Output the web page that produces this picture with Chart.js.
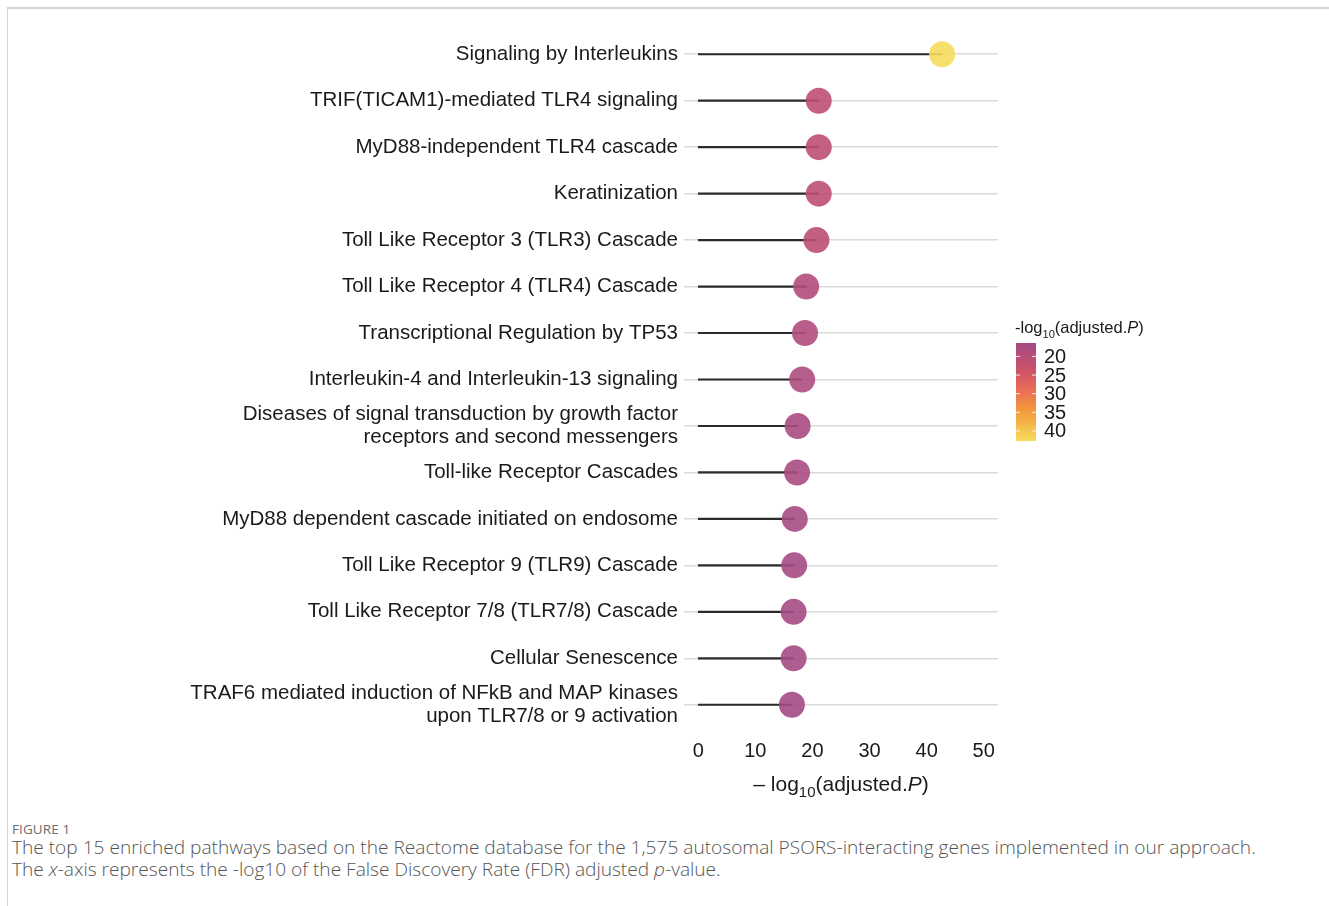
<!DOCTYPE html>
<html>
<head>
<meta charset="utf-8">
<script src="https://cdn.jsdelivr.net/npm/chart.js@4/dist/chart.umd.min.js"></script>
<style>
  body { margin: 0; background: #fff; width: 1329px; height: 906px; overflow: hidden; position: relative; }
  #frame { position: absolute; left: 7px; top: 7px; right: 0; bottom: 0; border-top: 2px solid #d4d4d4; border-left: 1px solid #d4d4d4; }
  #wrap { position: absolute; left: 0; top: 0; width: 1329px; height: 800px; }
  #fig { position: absolute; left: 12px; top: 820px; font-family: "Open Sans", sans-serif; font-size: 13.5px; color: #6b6b6b; letter-spacing: 0.1px; }
  #caption { position: absolute; left: 12px; top: 836px; font-family: "Open Sans", sans-serif; font-weight: 300; font-size: 19.1px; line-height: 22px; color: #555; }
</style>
</head>
<body>
<div id="frame"></div>
<div id="wrap"><canvas id="chart" width="1329" height="800"></canvas></div>
<div id="fig">FIGURE 1</div>
<div id="caption">The top 15 enriched pathways based on the Reactome database for the 1,575 autosomal PSORS-interacting genes implemented in our approach.<br>The <i>x</i>-axis represents the -log10 of the False Discovery Rate (FDR) adjusted <i>p</i>-value.</div>
<script>
const pathways = [
  'Signaling by Interleukins',
  'TRIF(TICAM1)-mediated TLR4 signaling',
  'MyD88-independent TLR4 cascade',
  'Keratinization',
  'Toll Like Receptor 3 (TLR3) Cascade',
  'Toll Like Receptor 4 (TLR4) Cascade',
  'Transcriptional Regulation by TP53',
  'Interleukin-4 and Interleukin-13 signaling',
  ['Diseases of signal transduction by growth factor', 'receptors and second messengers'],
  'Toll-like Receptor Cascades',
  'MyD88 dependent cascade initiated on endosome',
  'Toll Like Receptor 9 (TLR9) Cascade',
  'Toll Like Receptor 7/8 (TLR7/8) Cascade',
  'Cellular Senescence',
  ['TRAF6 mediated induction of NFkB and MAP kinases', 'upon TLR7/8 or 9 activation']
];
const logP = [42.7, 21.1, 21.1, 21.1, 20.7, 18.9, 18.7, 18.2, 17.4, 17.3, 16.9, 16.8, 16.7, 16.7, 16.4];
const xTicks = [0, 10, 20, 30, 40, 50];
const legendTicks = [20, 25, 30, 35, 40];

const lo = Math.min(...logP);
const hi = Math.max(...logP);

// purple -> red -> orange -> yellow
const stops = [
  [0.00, [164, 74, 134]],
  [0.28, [205, 82, 104]],
  [0.50, [236, 112, 84]],
  [0.70, [244, 156, 58]],
  [1.00, [246, 219, 94]]
];
function colorAt(v, a) {
  let t = (v - lo) / (hi - lo);
  t = Math.max(0, Math.min(1, t));
  let i = 0;
  while (i < stops.length - 2 && t > stops[i + 1][0]) i++;
  const [t0, c0] = stops[i], [t1, c1] = stops[i + 1];
  const f = (t - t0) / (t1 - t0);
  const c = c0.map((ch, k) => Math.round(ch + (c1[k] - ch) * f));
  return `rgba(${c[0]}, ${c[1]}, ${c[2]}, ${a})`;
}

const FONT = '"Liberation Sans", Arial, sans-serif';

function drawLogLabel(ctx, x, y, size, subSize, prefix, align) {
  const parts = [
    { t: prefix + 'log', f: `${size}px ${FONT}`, dy: 0 },
    { t: '10', f: `${subSize}px ${FONT}`, dy: size * 0.28 },
    { t: '(adjusted.', f: `${size}px ${FONT}`, dy: 0 },
    { t: 'P', f: `italic ${size}px ${FONT}`, dy: 0 },
    { t: ')', f: `${size}px ${FONT}`, dy: 0 }
  ];
  let total = 0;
  parts.forEach(p => { ctx.font = p.f; p.w = ctx.measureText(p.t).width; total += p.w; });
  let cx = align === 'center' ? x - total / 2 : x;
  ctx.textAlign = 'left';
  ctx.textBaseline = 'alphabetic';
  parts.forEach(p => { ctx.font = p.f; ctx.fillText(p.t, cx, y + p.dy); cx += p.w; });
}

const extras = {
  id: 'extras',
  afterDraw(chart) {
    const ctx = chart.ctx;
    const area = chart.chartArea;
    ctx.save();
    ctx.fillStyle = '#1a1a1a';
    // x axis title
    drawLogLabel(ctx, (area.left + area.right) / 2, 791, 21, 15, '\u2013 ', 'center');

    // colour bar
    const bx = 1016, bw = 20, by = 343, bh = 98;
    const grad = ctx.createLinearGradient(0, by, 0, by + bh);
    for (let k = 0; k <= 20; k++) {
      grad.addColorStop(k / 20, colorAt(lo + (hi - lo) * k / 20, 1));
    }
    ctx.fillStyle = grad;
    ctx.fillRect(bx, by, bw, bh);
    ctx.strokeStyle = 'rgba(255,255,255,0.85)';
    ctx.lineWidth = 1;
    ctx.fillStyle = '#1a1a1a';
    ctx.font = `20px ${FONT}`;
    legendTicks.forEach(v => {
      const y = by + (v - lo) / (hi - lo) * bh;
      ctx.beginPath();
      ctx.moveTo(bx, y); ctx.lineTo(bx + 4, y);
      ctx.moveTo(bx + bw - 4, y); ctx.lineTo(bx + bw, y);
      ctx.stroke();
      ctx.textAlign = 'left';
      ctx.textBaseline = 'middle';
      ctx.fillText(String(v), 1044, y + 1);
    });
    drawLogLabel(ctx, 1015, 333, 16.5, 11, '-', 'left');
    ctx.restore();
  }
};

new Chart(document.getElementById('chart'), {
  type: 'bar',
  data: {
    labels: pathways,
    datasets: [
      {
        type: 'scatter',
        order: 0,
        data: logP.map((v, i) => ({ x: v, y: i })),
        pointRadius: 13,
        pointHoverRadius: 13,
        borderWidth: 0,
        backgroundColor: logP.map(v => colorAt(v, 0.9))
      },
      {
        type: 'bar',
        order: 1,
        indexAxis: 'y',
        data: logP.map(v => [0, v]),
        backgroundColor: '#2b2b2b',
        barThickness: 1.5
      }
    ]
  },
  options: {
    responsive: false,
    animation: false,
    indexAxis: 'y',
    layout: { padding: { top: 31, right: 331, bottom: 0, left: 0 } },
    plugins: { legend: { display: false }, tooltip: { enabled: false } },
    scales: {
      x: {
        type: 'linear',
        min: -2.5,
        max: 52.5,
        afterBuildTicks: axis => { axis.ticks = xTicks.map(v => ({ value: v })); },
        afterFit: scale => { scale.height = 72; },
        grid: { display: false, drawTicks: false },
        border: { display: false },
        ticks: { color: '#1a1a1a', padding: 11, font: { family: FONT, size: 20 } }
      },
      y: {
        type: 'category',
        offset: true,
        afterFit: scale => { scale.width = 684; },
        grid: { color: '#dadada', lineWidth: 1.5, drawTicks: false, offset: false },
        border: { display: false },
        ticks: { color: '#1a1a1a', padding: 6, autoSkip: false, font: { family: FONT, size: 20.5, lineHeight: 1.12 } }
      }
    }
  },
  plugins: [extras]
});
</script>
</body>
</html>
